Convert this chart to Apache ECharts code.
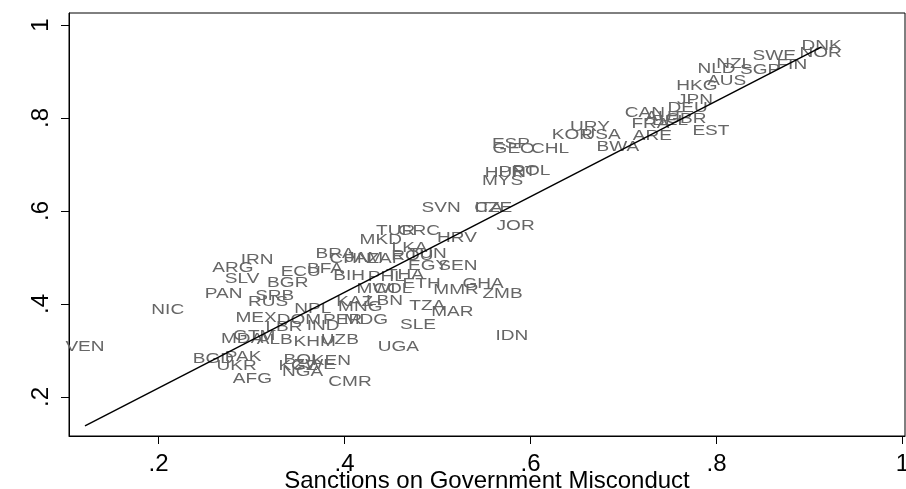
<!DOCTYPE html>
<html>
<head>
<meta charset="utf-8">
<script src="https://cdn.jsdelivr.net/npm/echarts@6/dist/echarts.min.js"></script>
<style>
  html, body { margin: 0; padding: 0; background: #fff; }
  #chart { width: 906px; height: 489px; }
</style>
</head>
<body>
<div id="chart"></div>
<script>
// country codes, x = sanctions on government misconduct, y = outcome
var codes = ["VEN", "NIC", "PAN", "ARG", "IRN", "SLV", "BGR", "SRB", "RUS", "ECU",
  "BFA", "BRA", "CHN", "JAM", "ZAF", "ROU", "TUN", "BIH", "MEX", "GTM",
  "MDA", "ALB", "LBR", "IND", "DOM", "PER", "MDG", "NPL", "KHM", "UZB",
  "BGD", "PAK", "UKR", "AFG", "BOL", "KGZ", "ZWE", "KEN", "NGA", "CMR",
  "KAZ", "MNG", "LBN", "MWI", "COL", "PHL", "THA", "ETH", "EGY", "SEN",
  "MMR", "GHA", "ZMB", "TZA", "MAR", "SLE", "UGA", "IDN", "MKD", "TUR",
  "GRC", "LKA", "HRV", "SVN", "CZE", "ITA", "JOR", "MYS", "HUN", "PRT",
  "POL", "ESP", "GEO", "CHL", "KOR", "URY", "USA", "BWA", "ARE", "EST",
  "CAN", "AUT", "FRA", "BEL", "GBR", "DEU", "JPN", "HKG", "AUS", "NLD",
  "NZL", "SGP", "FIN", "SWE", "NOR", "DNK"];
var xVals = [0.121, 0.210, 0.270, 0.280, 0.306, 0.290, 0.339, 0.325, 0.318, 0.353,
  0.379, 0.390, 0.406, 0.421, 0.444, 0.473, 0.489, 0.405, 0.305, 0.303,
  0.290, 0.325, 0.335, 0.377, 0.351, 0.398, 0.423, 0.366, 0.368, 0.395,
  0.259, 0.291, 0.284, 0.301, 0.355, 0.350, 0.368, 0.386, 0.355, 0.406,
  0.411, 0.417, 0.443, 0.434, 0.452, 0.445, 0.465, 0.483, 0.490, 0.522,
  0.520, 0.549, 0.570, 0.489, 0.516, 0.479, 0.458, 0.580, 0.439, 0.455,
  0.480, 0.470, 0.521, 0.504, 0.560, 0.555, 0.584, 0.570, 0.573, 0.586,
  0.601, 0.579, 0.582, 0.621, 0.645, 0.664, 0.676, 0.694, 0.731, 0.794,
  0.723, 0.744, 0.729, 0.750, 0.767, 0.769, 0.777, 0.779, 0.811, 0.800,
  0.819, 0.847, 0.881, 0.862, 0.912, 0.913];
var yVals = [0.308, 0.387, 0.422, 0.477, 0.495, 0.454, 0.445, 0.417, 0.404, 0.469,
  0.475, 0.508, 0.497, 0.499, 0.497, 0.503, 0.508, 0.460, 0.370, 0.331,
  0.325, 0.323, 0.351, 0.353, 0.366, 0.366, 0.366, 0.389, 0.318, 0.323,
  0.282, 0.286, 0.267, 0.239, 0.280, 0.267, 0.269, 0.277, 0.254, 0.232,
  0.404, 0.394, 0.407, 0.432, 0.432, 0.458, 0.462, 0.443, 0.482, 0.482,
  0.430, 0.443, 0.422, 0.396, 0.383, 0.355, 0.308, 0.331, 0.538, 0.557,
  0.557, 0.520, 0.542, 0.607, 0.607, 0.607, 0.568, 0.665, 0.682, 0.684,
  0.686, 0.744, 0.733, 0.733, 0.763, 0.781, 0.763, 0.738, 0.761, 0.772,
  0.811, 0.802, 0.787, 0.794, 0.798, 0.822, 0.839, 0.869, 0.880, 0.905,
  0.916, 0.903, 0.914, 0.933, 0.940, 0.955];

// fitted line end points
var fitX = [0.121, 0.913];
var fitY = [0.138, 0.953];

var xTicks = [0.2, 0.4, 0.6, 0.8, 1];
var xTickLabels = [".2", ".4", ".6", ".8", "1"];
var yTicks = [0.2, 0.4, 0.6, 0.8, 1];
var yTickLabels = [".2", ".4", ".6", ".8", "1"];

var chart = echarts.init(document.getElementById("chart"));

var points = xVals.map(function (x, i) {
  return [x, yVals[i]];
});
var fitData = fitX.map(function (x, i) {
  return [x, fitY[i]];
});

var option = {
  animation: false,
  grid: {
    left: 69,
    right: 1,
    top: 13,
    bottom: 53,
    outerBoundsMode: "none",
    containLabel: false,
    show: true,
    borderColor: "#000",
    borderWidth: 1
  },
  xAxis: {
    type: "value",
    min: 0.1038,
    max: 1.0027,
    name: "Sanctions on Government Misconduct",
    nameLocation: "middle",
    nameGap: 33,
    nameMoveOverlap: false,
    nameTextStyle: {
      color: "#000",
      fontSize: 24,
      fontFamily: "Liberation Sans",
      verticalAlign: "top"
    },
    axisLine: { show: true, lineStyle: { color: "#000", width: 1 } },
    axisTick: {
      show: true,
      length: 8,
      customValues: xTicks,
      lineStyle: { color: "#000" }
    },
    axisLabel: {
      customValues: xTicks,
      margin: 16,
      color: "#000",
      fontSize: 24,
      fontFamily: "Liberation Sans",
      formatter: function (v) {
        var i = xTicks.indexOf(Math.round(v * 10) / 10);
        return i >= 0 ? xTickLabels[i] : "";
      }
    },
    splitLine: { show: false }
  },
  yAxis: {
    type: "value",
    min: 0.1161,
    max: 1.0258,
    axisLine: { show: true, lineStyle: { color: "#000", width: 1 } },
    axisTick: {
      show: true,
      length: 8,
      customValues: yTicks,
      lineStyle: { color: "#000" }
    },
    axisLabel: {
      customValues: yTicks,
      rotate: 90,
      margin: 16,
      color: "#000",
      fontSize: 24,
      fontFamily: "Liberation Sans",
      formatter: function (v) {
        var i = yTicks.indexOf(Math.round(v * 10) / 10);
        return i >= 0 ? yTickLabels[i] : "";
      }
    },
    splitLine: { show: false }
  },
  series: [
    {
      type: "custom",
      data: points,
      z: 2,
      renderItem: function (params, api) {
        var p = api.coord([api.value(0), api.value(1)]);
        return {
          type: "text",
          x: p[0],
          y: p[1],
          scaleX: 1.27,
          style: {
            text: codes[params.dataIndex],
            fill: "#666666",
            fontSize: 15,
            fontFamily: "Liberation Sans",
            align: "center",
            verticalAlign: "middle"
          }
        };
      }
    },
    {
      type: "line",
      data: fitData,
      symbol: "none",
      z: 3,
      lineStyle: { color: "#000", width: 1.5 }
    }
  ]
};

chart.setOption(option);
</script>
</body>
</html>
